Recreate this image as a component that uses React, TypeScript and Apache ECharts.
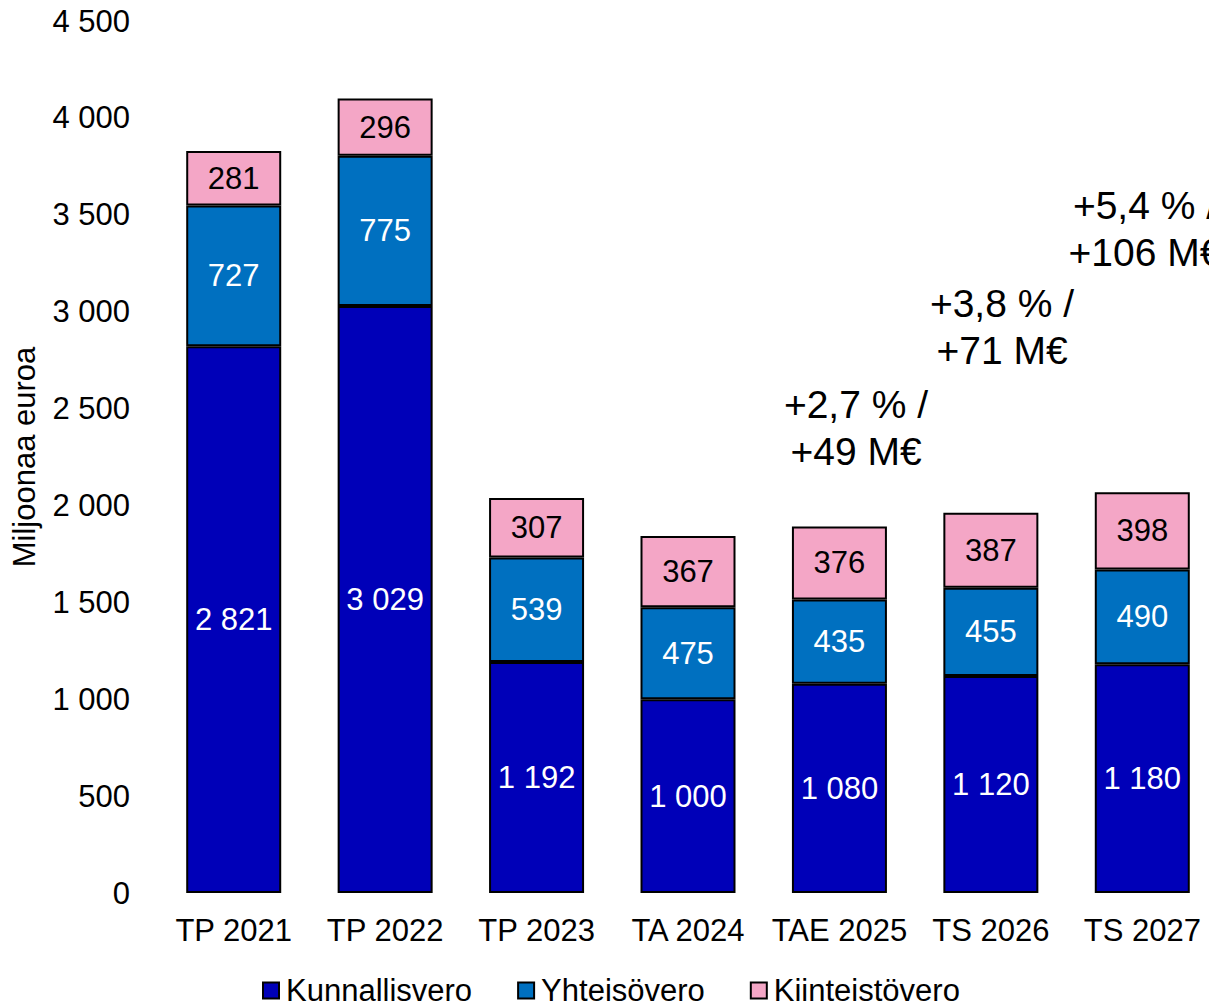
import React, { useEffect, useRef } from "react";
import * as echarts from "echarts";

const categories = ["TP 2021", "TP 2022", "TP 2023", "TA 2024", "TAE 2025", "TS 2026", "TS 2027"];
const kunnallisvero = [2821, 3029, 1192, 1000, 1080, 1120, 1180];
const yhteisovero = [727, 775, 539, 475, 435, 455, 490];
const kiinteistovero = [281, 296, 307, 367, 376, 387, 398];
const seriesNames = ["Kunnallisvero", "Yhteisövero", "Kiinteistövero"];
const annotations = [
  { text: "+2,7 % /\n+49 M€", x: 856, y: 428 },
  { text: "+3,8 % /\n+71 M€", x: 1002, y: 327 },
  { text: "+5,4 % /\n+106 M€", x: 1145, y: 229 },
];

const FONT = "'Liberation Sans', Arial, sans-serif";
const FS = 31;

function fmt(v: number): string {
  if (v >= 1000) {
    return `${Math.floor(v / 1000)} ${String(v % 1000).padStart(3, "0")}`;
  }
  return String(v);
}

export default function App() {
  const ref = useRef<HTMLDivElement>(null);
  useEffect(() => {
    if (!ref.current) return;
    const chart = echarts.init(ref.current, null, { renderer: "svg" });
    const mk = (name: string, data: number[], color: string, labelColor: string) => ({
      name,
      type: "bar",
      stack: "total",
      data,
      barWidth: 95,
      itemStyle: { color, borderColor: "#000", borderWidth: 2 },
      label: {
        show: true,
        position: "inside",
        color: labelColor,
        fontSize: FS,
        fontFamily: FONT,
        formatter: (p: any) => fmt(p.value),
      },
    });
    chart.setOption({
      animation: false,
      textStyle: { fontFamily: FONT },
      grid: { left: 158, right: 0, top: 21, bottom: 112 },
      xAxis: {
        type: "category",
        data: categories,
        axisLine: { show: false },
        axisTick: { show: false },
        axisLabel: { color: "#000", fontSize: FS, fontFamily: FONT, margin: 22, interval: 0 },
      },
      yAxis: {
        type: "value",
        min: 0,
        max: 4500,
        interval: 500,
        axisLine: { show: false },
        axisTick: { show: false },
        splitLine: { show: false },
        axisLabel: {
          color: "#000",
          fontSize: FS,
          fontFamily: FONT,
          margin: 28,
          formatter: (v: number) => fmt(v),
        },
        name: "Miljoonaa euroa",
        nameLocation: "middle",
        nameGap: 118,
        nameTextStyle: { color: "#000", fontSize: FS, fontFamily: FONT },
      },
      legend: {
        left: 262,
        top: 975,
        padding: 0,
        icon: "rect",
        itemWidth: 16,
        itemHeight: 16,
        itemGap: 45,
        textStyle: { color: "#000", fontSize: FS, fontFamily: FONT, padding: [0, 0, 0, 2] },
        data: seriesNames,
      },
      series: [
        mk(seriesNames[0], kunnallisvero, "#0000B8", "#fff"),
        mk(seriesNames[1], yhteisovero, "#0070C0", "#fff"),
        mk(seriesNames[2], kiinteistovero, "#F4A6C6", "#000"),
      ],
      graphic: annotations.map((a) => ({
        type: "text",
        x: a.x,
        y: a.y,
        style: {
          text: a.text,
          fill: "#000",
          font: `39px ${FONT}`,
          lineHeight: 47,
          align: "center",
          verticalAlign: "middle",
        },
      })),
    });
    return () => chart.dispose();
  }, []);
  return (
    <div
      style={{ position: "absolute", left: 0, top: 0, width: 1209, height: 1005, overflow: "hidden" }}
    >
      <div ref={ref} style={{ width: 1218, height: 1005 }} />
    </div>
  );
}
